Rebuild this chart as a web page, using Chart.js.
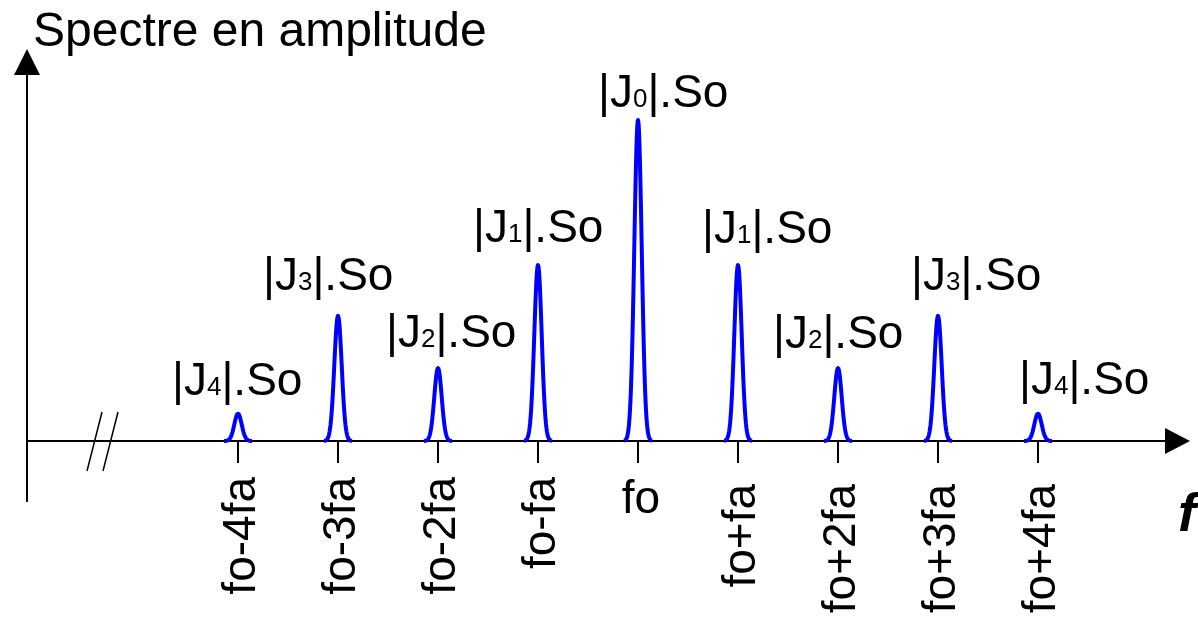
<!DOCTYPE html>
<html>
<head>
<meta charset="utf-8">
<script src="https://cdn.jsdelivr.net/npm/chart.js@4"></script>
<style>
  body { margin: 0; background: #fff; }
  #wrap { width: 1198px; height: 621px; position: relative; }
</style>
</head>
<body>
<div id="wrap"><canvas id="spectrumChart"></canvas></div>
<script>
// Data
const harmonics = [-4, -3, -2, -1, 0, 1, 2, 3, 4];
const tickLabels = ['fo-4fa', 'fo-3fa', 'fo-2fa', 'fo-fa', 'fo', 'fo+fa', 'fo+2fa', 'fo+3fa', 'fo+4fa'];
const amplitudes = [0.085, 0.39, 0.227, 0.548, 1.0, 0.548, 0.227, 0.39, 0.085];
const besselIndex = ['4', '3', '2', '1', '0', '1', '2', '3', '4'];

// Label placement relative to the peak top (pixels)
const labelOffsets = [[-66, -19], [-75, -26], [-52, -21], [-65, -23], [-40, -13],
                      [-36, -22], [-65, -20], [-27, -26], [-19, -20]];

const FONT = '"Liberation Sans", Arial, sans-serif';

function drawArrowAxes(chart) {
    let ctx = chart.ctx;
    let area = chart.chartArea;
    let xs = chart.scales.x, ys = chart.scales.y;
    let y0 = ys.getPixelForValue(0);
    let xLeft = area.left;

    ctx.save();
    ctx.strokeStyle = '#000';
    ctx.fillStyle = '#000';
    ctx.lineWidth = 2;

    // vertical axis with arrow
    ctx.beginPath();
    ctx.moveTo(xLeft, area.bottom);
    ctx.lineTo(xLeft, area.top + 24);
    ctx.stroke();
    ctx.beginPath();
    ctx.moveTo(xLeft, area.top);
    ctx.lineTo(xLeft - 13, area.top + 26);
    ctx.lineTo(xLeft + 13, area.top + 26);
    ctx.closePath();
    ctx.fill();

    // horizontal axis with arrow
    ctx.beginPath();
    ctx.moveTo(xLeft, y0);
    ctx.lineTo(area.right - 24, y0);
    ctx.stroke();
    ctx.beginPath();
    ctx.moveTo(area.right, y0);
    ctx.lineTo(area.right - 25, y0 - 13);
    ctx.lineTo(area.right - 25, y0 + 13);
    ctx.closePath();
    ctx.fill();

    // break marks
    ctx.lineWidth = 1.5;
    ctx.beginPath();
    ctx.moveTo(xLeft + 60, y0 + 30);
    ctx.lineTo(xLeft + 75, y0 - 29);
    ctx.moveTo(xLeft + 76, y0 + 30);
    ctx.lineTo(xLeft + 91, y0 - 29);
    ctx.stroke();

    // ticks and tick labels
    ctx.lineWidth = 2;
    harmonics.forEach((h, i) => {
        let px = xs.getPixelForValue(h);
        ctx.beginPath();
        ctx.moveTo(px, y0);
        ctx.lineTo(px, y0 + 22);
        ctx.stroke();

        ctx.font = '46px ' + FONT;
        if (tickLabels[i] === 'fo') {
            ctx.textAlign = 'center';
            ctx.textBaseline = 'alphabetic';
            ctx.fillText(tickLabels[i], px + 3, y0 + 72);
        } else {
            ctx.save();
            ctx.translate(px + 17, y0 + (h < 0 ? 36 : 43));
            ctx.rotate(-Math.PI / 2);
            ctx.textAlign = 'right';
            ctx.textBaseline = 'alphabetic';
            ctx.fillText(tickLabels[i], 0, 0);
            ctx.restore();
        }
    });

    // axis titles
    ctx.font = '48px ' + FONT;
    ctx.textAlign = 'left';
    ctx.textBaseline = 'alphabetic';
    ctx.fillText('Spectre en amplitude', xLeft + 6, 46);
    ctx.font = 'italic bold 54px ' + FONT;
    ctx.fillText('f', area.right - 12, y0 + 90);
    ctx.restore();
}

function drawPeaks(chart) {
    let ctx = chart.ctx;
    let meta = chart.getDatasetMeta(0);
    let y0 = chart.scales.y.getPixelForValue(0);
    let sigma = 3.7;

    ctx.save();
    ctx.strokeStyle = '#0000ff';
    ctx.lineWidth = 4;
    ctx.lineJoin = 'round';
    meta.data.forEach((pt, i) => {
        let hgt = y0 - pt.y;
        ctx.beginPath();
        for (let dx = -14; dx <= 14; dx += 0.5) {
            let y = y0 - hgt * Math.exp(-(dx * dx) / (2 * sigma * sigma));
            if (dx === -14) ctx.moveTo(pt.x + dx, y);
            else ctx.lineTo(pt.x + dx, y);
        }
        ctx.stroke();

        // |Jn|.So label
        let lx = pt.x + labelOffsets[i][0];
        let ly = pt.y + labelOffsets[i][1];
        ctx.fillStyle = '#000';
        ctx.textAlign = 'left';
        ctx.textBaseline = 'alphabetic';
        ctx.font = '46px ' + FONT;
        ctx.fillText('|J', lx, ly);
        lx += ctx.measureText('|J').width;
        ctx.font = '26px ' + FONT;
        ctx.fillText(besselIndex[i], lx, ly);
        lx += ctx.measureText(besselIndex[i]).width;
        ctx.font = '46px ' + FONT;
        ctx.fillText('|.So', lx, ly);
    });
    ctx.restore();
}

const spectrumPlugin = {
    id: 'spectrumPlugin',
    beforeDatasetsDraw: chart => drawArrowAxes(chart),
    afterDatasetsDraw: chart => drawPeaks(chart)
};

let canvas = document.getElementById('spectrumChart').getContext('2d');
let spectrumChart = new Chart(canvas, {
    type: 'line',
    data: {
        labels: tickLabels,
        datasets: [{
            data: harmonics.map((h, i) => ({ x: h, y: amplitudes[i] })),
            showLine: false,
            pointRadius: 0,
            borderColor: '#0000ff'
        }]
    },
    options: {
        responsive: true,
        maintainAspectRatio: false,
        animation: false,
        layout: { padding: { left: 27, right: 8, top: 49, bottom: 119 } },
        plugins: { legend: { display: false }, tooltip: { enabled: false } },
        scales: {
            x: { type: 'linear', min: -6.11, max: 5.52, display: false },
            y: { type: 'linear', min: -0.19, max: 1.221, display: false }
        }
    },
    plugins: [spectrumPlugin]
});
</script>
</body>
</html>
